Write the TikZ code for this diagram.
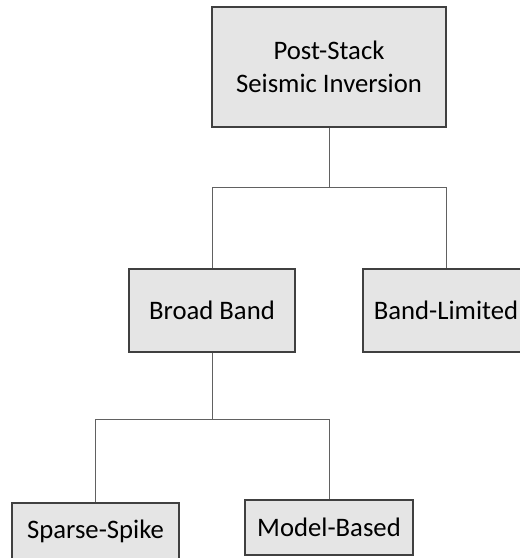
\documentclass[tikz,border=0pt]{standalone}
\usepackage{fontspec}
\setmainfont{Carlito}
\usepackage{xcolor}
\usetikzlibrary{positioning}

\definecolor{boxfill}{gray}{0.90}
\definecolor{boxline}{gray}{0.25}
\definecolor{linkline}{gray}{0.38}

\begin{document}
\begin{tikzpicture}[
  x=1bp, y=-1bp,
  box/.style={draw=boxline, line width=1.4bp, fill=boxfill, inner sep=0pt,
    align=center, font=\fontsize{26.8}{32.5}\selectfont},
  link/.style={draw=linkline, line width=0.9bp},
]
  \useasboundingbox (0,0) rectangle (520,558);
  % Root
  \node[box, minimum width=234bp, minimum height=120bp] (root) at (329,67)
    {Post-Stack\\Seismic Inversion};
  % Second level
  \node[box, minimum width=166bp, minimum height=83bp] (broad) at (212,310.5) {Broad Band};
  \node[box, minimum width=166bp, minimum height=83bp] (limited) at (446,310.5) {Band-Limited};
  % Third level
  \node[box, minimum width=167bp, minimum height=56bp] (sparse) at (95.5,531) {Sparse-Spike};
  \node[box, minimum width=168bp, minimum height=55bp] (model) at (329,527.5) {Model-Based};
  % Junctions
  \coordinate (j1) at (329,187);
  \coordinate (j2) at (212,419);
  % Tree links
  \draw[link] (root.south) -- (j1) -| (broad.north);
  \draw[link] (j1) -| (limited.north);
  \draw[link] (broad.south) -- (j2) -| (sparse.north);
  \draw[link] (j2) -| (model.north);
\end{tikzpicture}
\end{document}
